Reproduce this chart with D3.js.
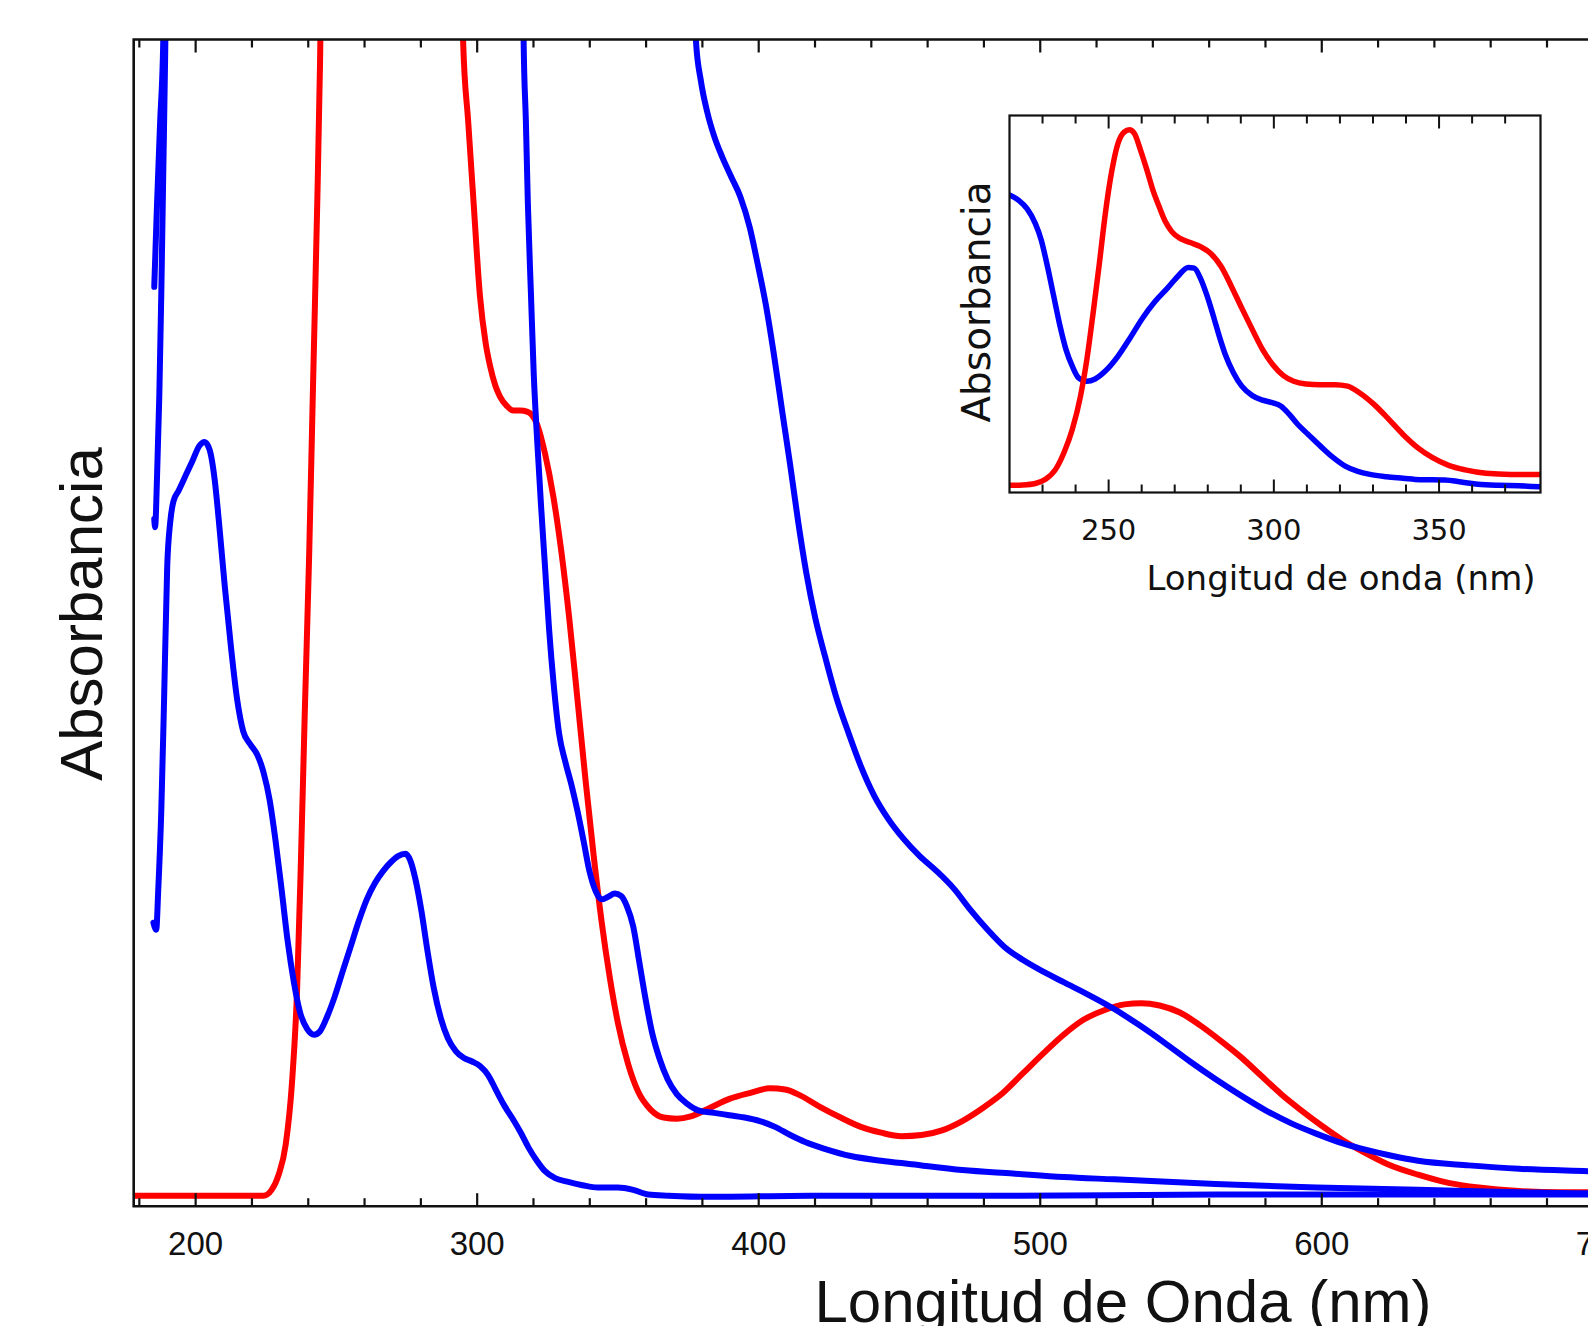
<!DOCTYPE html>
<html>
<head>
<meta charset="utf-8">
<script src="https://cdn.jsdelivr.net/npm/d3@7"></script>
<style>
  html, body { margin: 0; padding: 0; background: #fff; }
  svg { display: block; }
</style>
</head>
<body>
<div id="chart"></div>
<script>
(function(){
  // Main spectra: [wavelength nm, absorbance (arb.)], values above 1 run off the top of the frame
  const redMain = [
    [178, 0.009], [202.5, 0.009], [224.1, 0.009], [227.0, 0.014], [229.5, 0.027], [232.0, 0.053],
    [234.2, 0.105], [236.0, 0.183], [237.4, 0.296], [238.8, 0.426], [240.3, 0.556], [241.7, 0.704],
    [243.2, 0.860], [244.2, 0.982], [245.0, 1.121], [256, 2.3], [278, 1.57], [294.3, 1.121],
    [295.0, 0.999], [296.8, 0.930], [298.6, 0.865], [301.0, 0.780], [303.0, 0.740], [304.6, 0.720],
    [306.5, 0.703], [308.1, 0.694], [310.5, 0.686], [312.8, 0.682], [315.3, 0.682], [317.7, 0.681],
    [319.5, 0.678], [321.3, 0.670], [324.1, 0.645],
    [327.0, 0.609], [329.9, 0.561], [332.7, 0.504], [335.6, 0.435], [338.5, 0.365], [341.4, 0.300],
    [344.2, 0.244], [347.1, 0.196], [350.0, 0.157], [353.6, 0.122], [357.2, 0.098], [361.5, 0.083],
    [366.2, 0.076], [370.9, 0.075], [375.9, 0.077], [382.4, 0.084], [389.6, 0.092], [396.8, 0.097],
    [404.0, 0.101], [409.4, 0.100], [414.7, 0.095], [421.9, 0.085], [429.1, 0.076], [436.3, 0.068],
    [443.5, 0.063], [450.7, 0.060], [457.9, 0.061], [465.1, 0.065], [472.3, 0.073], [479.5, 0.084],
    [486.7, 0.097], [493.9, 0.114], [501.1, 0.131], [508.3, 0.147], [515.5, 0.160], [522.7, 0.168],
    [529.9, 0.173], [536.0, 0.174], [542.4, 0.172], [549.6, 0.166], [556.8, 0.155], [564.0, 0.142],
    [571.2, 0.128], [578.4, 0.112], [585.6, 0.096], [592.8, 0.082], [600.0, 0.069], [607.2, 0.057],
    [614.4, 0.047], [623.4, 0.036], [634.2, 0.027], [645.0, 0.020], [655.8, 0.016], [670.1, 0.013],
    [684.5, 0.012], [694.6, 0.012], [720, 0.011]
  ];

  const blueDilute = [
    [185.0, 0.243], [186.0, 0.237], [186.7, 0.270], [187.8, 0.339], [188.8, 0.435], [189.9, 0.548],
    [191.0, 0.587], [192.1, 0.604], [193.9, 0.613], [196.4, 0.626], [198.9, 0.639], [201.4, 0.652],
    [203.2, 0.655], [205.0, 0.648], [206.8, 0.622], [208.6, 0.578], [210.4, 0.530], [212.6, 0.478],
    [214.7, 0.435], [216.9, 0.407], [219.4, 0.396], [221.9, 0.387], [224.1, 0.372], [226.3, 0.348],
    [228.4, 0.313], [230.6, 0.270], [232.7, 0.227], [234.9, 0.192], [237.1, 0.166], [239.6, 0.152],
    [242.1, 0.147], [244.2, 0.150], [246.8, 0.163], [249.3, 0.179], [252.2, 0.201], [255.0, 0.222],
    [257.9, 0.244], [260.8, 0.263], [263.7, 0.277], [266.5, 0.287], [269.4, 0.295], [271.9, 0.300],
    [274.5, 0.302], [276.3, 0.296], [278.1, 0.280], [280.2, 0.253], [282.4, 0.218], [284.5, 0.188],
    [287.1, 0.161], [289.6, 0.144], [292.4, 0.133], [295.3, 0.127], [298.2, 0.124], [301.1, 0.120],
    [304.0, 0.112], [306.8, 0.099], [309.7, 0.086], [312.6, 0.075], [315.5, 0.063], [318.3, 0.050],
    [321.2, 0.039], [324.1, 0.030], [327.7, 0.024], [332.0, 0.021], [337.4, 0.018], [342.8, 0.016],
    [350.0, 0.016], [355.4, 0.014], [360.8, 0.010], [368.0, 0.009], [382.4, 0.008], [418.3, 0.009],
    [490.3, 0.009], [562.2, 0.010], [634.2, 0.010], [694.6, 0.010], [720, 0.010]
  ];

  const blueMedium = [
    [185.3, 0.589], [185.6, 0.582], [186.3, 0.626], [187.1, 0.695], [187.8, 0.782], [188.5, 0.886],
    [189.2, 0.990], [189.6, 1.078], [203, 6.0], [274, 4.0], [316.2, 1.085],
    [316.5, 0.999], [317.3, 0.930], [318.0, 0.860], [319.1, 0.782], [320.1, 0.713], [321.2, 0.661],
    [322.7, 0.600], [324.1, 0.548], [325.5, 0.496], [327.3, 0.444], [329.1, 0.405], [331.3, 0.381],
    [333.5, 0.361], [335.6, 0.339], [337.8, 0.313], [339.9, 0.287], [342.1, 0.270], [344.2, 0.263],
    [346.4, 0.265], [348.9, 0.268], [351.1, 0.266], [353.2, 0.257], [355.4, 0.240], [357.6, 0.209],
    [359.7, 0.179], [362.2, 0.148], [364.7, 0.127], [367.6, 0.109], [370.9, 0.096], [374.5, 0.088],
    [378.8, 0.082], [384.2, 0.080], [389.6, 0.078], [395.0, 0.076], [400.4, 0.073], [405.8, 0.068],
    [411.2, 0.061], [416.5, 0.055], [423.7, 0.049], [432.7, 0.043], [443.5, 0.039], [454.3, 0.036],
    [472.3, 0.031], [490.3, 0.028], [508.3, 0.025], [526.3, 0.023], [562.2, 0.019], [598.2, 0.016],
    [634.2, 0.014], [670.1, 0.012], [694.6, 0.011], [720, 0.011]
  ];

  const blueConc = [
    [185.3, 0.788], [186.3, 0.860], [187.4, 0.930], [188.5, 0.999], [188.8, 1.085], [203, 15],
    [274, 9], [350, 3.0], [377.4, 1.085],
    [377.7, 0.999], [379.5, 0.964], [381.7, 0.938], [384.2, 0.917], [387.1, 0.899], [390.3, 0.882],
    [393.5, 0.865], [396.8, 0.839], [399.6, 0.808], [402.5, 0.773], [405.4, 0.730], [408.3, 0.682],
    [411.2, 0.635], [414.0, 0.587], [416.9, 0.543], [420.1, 0.504], [423.7, 0.470], [427.7, 0.435],
    [432.0, 0.405], [436.3, 0.377], [441.0, 0.352], [446.0, 0.332], [451.4, 0.315], [457.2, 0.300],
    [463.3, 0.287], [469.4, 0.272], [475.2, 0.254], [481.3, 0.237], [487.4, 0.222], [493.9, 0.211],
    [501.1, 0.201], [508.3, 0.192], [517.3, 0.181], [526.3, 0.169], [535.3, 0.155], [544.2, 0.140],
    [553.2, 0.124], [562.2, 0.109], [571.2, 0.095], [580.2, 0.082], [589.2, 0.071], [598.2, 0.062],
    [607.2, 0.054], [616.2, 0.048], [625.2, 0.043], [634.2, 0.039], [652.2, 0.035], [670.1, 0.032],
    [694.6, 0.030], [720, 0.028]
  ];

  // Inset spectra
  const blueInset = [
    [220, 0.789], [222.8, 0.775], [225.3, 0.753], [227.8, 0.714], [229.6, 0.670], [231.5, 0.599],
    [233.4, 0.520], [235.3, 0.441], [237.1, 0.379], [239.0, 0.335], [240.9, 0.304], [243.4, 0.295],
    [245.9, 0.301], [249.0, 0.322], [252.8, 0.361], [256.5, 0.410], [260.3, 0.463], [264.1, 0.507],
    [267.8, 0.542], [270.9, 0.573], [274.1, 0.597], [275.9, 0.595], [277.8, 0.568], [279.7, 0.524],
    [281.6, 0.471], [283.5, 0.414], [285.3, 0.366], [287.8, 0.317], [290.3, 0.282], [293.5, 0.257],
    [296.6, 0.245], [299.7, 0.238], [302.2, 0.229], [304.7, 0.207], [307.2, 0.181], [310.4, 0.154],
    [314.1, 0.123], [317.9, 0.093], [321.6, 0.070], [325.4, 0.056], [329.1, 0.048], [334.1, 0.042],
    [339.1, 0.038], [344.2, 0.034], [351.7, 0.033], [356.7, 0.028], [361.7, 0.022], [367.9, 0.019],
    [374.2, 0.018], [380.7, 0.015]
  ];

  const redInset = [
    [220, 0.019], [224.0, 0.020], [227.8, 0.024], [230.9, 0.035], [234.0, 0.062], [236.5, 0.106],
    [239.0, 0.167], [241.5, 0.256], [243.4, 0.352], [245.3, 0.476], [247.2, 0.608], [249.0, 0.740],
    [250.9, 0.850], [252.8, 0.925], [254.7, 0.956], [256.3, 0.962], [257.8, 0.952], [259.7, 0.907],
    [261.6, 0.855], [263.4, 0.802], [265.3, 0.758], [267.2, 0.718], [269.1, 0.692], [271.6, 0.674],
    [274.7, 0.663], [277.8, 0.652], [280.9, 0.634], [284.1, 0.599], [287.2, 0.546], [290.3, 0.489],
    [293.5, 0.432], [296.6, 0.379], [299.7, 0.339], [302.9, 0.310], [306.0, 0.295], [309.7, 0.288],
    [314.1, 0.286], [318.5, 0.286], [322.3, 0.282], [326.0, 0.264], [330.4, 0.233], [334.8, 0.194],
    [339.1, 0.154], [343.5, 0.119], [347.9, 0.093], [352.9, 0.072], [357.9, 0.060], [364.2, 0.051],
    [371.7, 0.048], [380.7, 0.048]
  ];

  const mainTicks = [200, 300, 400, 500, 600, 700];
  const insetTicks = [250, 300, 350];

  const W = 1588, H = 1326;
  const ink = "#111";

  const svg = d3.select("#chart")
    .append("svg")
    .attr("width", W)
    .attr("height", H);

  svg.append("rect").attr("width", W).attr("height", H).attr("fill", "#fff");

  // ---- main panel ----
  const box = { left: 133.7, top: 39.5, bottom: 1206.2 };
  const x = d3.scaleLinear().domain([178, 720]).range([box.left, 195.5 + 520 * 2.8156]);
  const y = d3.scaleLinear().domain([0, 1]).range([box.bottom, box.top]);

  svg.append("clipPath").attr("id", "clipMain")
    .append("rect")
    .attr("x", box.left).attr("y", box.top)
    .attr("width", x.range()[1] - box.left)
    .attr("height", box.bottom - box.top);

  const line = d3.line()
    .x(d => x(d[0]))
    .y(d => y(d[1]))
    .curve(d3.curveMonotoneX);

  const curves = svg.append("g").attr("clip-path", "url(#clipMain)");
  [[redMain, "#ff0000"], [blueDilute, "#0000ff"], [blueMedium, "#0000ff"], [blueConc, "#0000ff"]]
    .forEach(([d, c]) => {
      curves.append("path")
        .attr("d", line(d))
        .attr("fill", "none")
        .attr("stroke", c)
        .attr("stroke-width", 6)
        .attr("stroke-linejoin", "round")
        .attr("stroke-linecap", "round");
    });

  // ticks (inward, top and bottom)
  const minor = d3.range(180, 721, 20);
  const tickG = svg.append("g").attr("stroke", ink).attr("stroke-width", 2.2);
  minor.forEach(t => {
    const len = t % 100 === 0 ? 13 : 8;
    tickG.append("line").attr("x1", x(t)).attr("x2", x(t)).attr("y1", box.bottom).attr("y2", box.bottom - len);
    tickG.append("line").attr("x1", x(t)).attr("x2", x(t)).attr("y1", box.top).attr("y2", box.top + len);
  });

  // frame
  svg.append("path")
    .attr("d", `M${W + 10},${box.top}H${box.left}V${box.bottom}H${W + 10}`)
    .attr("fill", "none")
    .attr("stroke", ink)
    .attr("stroke-width", 2.6);

  svg.append("g")
    .selectAll("text")
    .data(mainTicks)
    .join("text")
    .attr("x", d => x(d))
    .attr("y", 1255)
    .attr("text-anchor", "middle")
    .style("font-family", "'Liberation Sans', Arial, sans-serif")
    .style("font-size", "33px")
    .attr("fill", ink)
    .text(d => d);

  svg.append("text")
    .attr("x", 1123)
    .attr("y", 1322)
    .attr("text-anchor", "middle")
    .style("font-family", "'Liberation Sans', Arial, sans-serif")
    .style("font-size", "60px")
    .attr("fill", ink)
    .text("Longitud de Onda (nm)");

  svg.append("text")
    .attr("transform", "translate(102,614) rotate(-90)")
    .attr("text-anchor", "middle")
    .style("font-family", "'Liberation Sans', Arial, sans-serif")
    .style("font-size", "60px")
    .attr("fill", ink)
    .text("Absorbancia");

  // ---- inset ----
  const ib = { left: 1009.5, right: 1540.5, top: 115.5, bottom: 492.5 };
  const xi = d3.scaleLinear().domain([220, 380.7]).range([ib.left, ib.right]);
  const yi = d3.scaleLinear().domain([0, 1]).range([ib.bottom, ib.top]);

  svg.append("rect")
    .attr("x", ib.left).attr("y", ib.top)
    .attr("width", ib.right - ib.left).attr("height", ib.bottom - ib.top)
    .attr("fill", "#fff");

  svg.append("clipPath").attr("id", "clipInset")
    .append("rect")
    .attr("x", ib.left).attr("y", ib.top)
    .attr("width", ib.right - ib.left).attr("height", ib.bottom - ib.top);

  const lineI = d3.line()
    .x(d => xi(d[0]))
    .y(d => yi(d[1]))
    .curve(d3.curveMonotoneX);

  const ig = svg.append("g").attr("clip-path", "url(#clipInset)");
  [[blueInset, "#0000ff"], [redInset, "#ff0000"]].forEach(([d, c]) => {
    ig.append("path")
      .attr("d", lineI(d))
      .attr("fill", "none")
      .attr("stroke", c)
      .attr("stroke-width", 5.5)
      .attr("stroke-linejoin", "round")
      .attr("stroke-linecap", "round");
  });

  const itg = svg.append("g").attr("stroke", ink).attr("stroke-width", 2);
  d3.range(230, 380, 10).forEach(t => {
    const len = t % 50 === 0 ? 13 : 8;
    itg.append("line").attr("x1", xi(t)).attr("x2", xi(t)).attr("y1", ib.bottom).attr("y2", ib.bottom - len);
    itg.append("line").attr("x1", xi(t)).attr("x2", xi(t)).attr("y1", ib.top).attr("y2", ib.top + len);
  });

  svg.append("rect")
    .attr("x", ib.left).attr("y", ib.top)
    .attr("width", ib.right - ib.left).attr("height", ib.bottom - ib.top)
    .attr("fill", "none")
    .attr("stroke", ink)
    .attr("stroke-width", 2.2);

  svg.append("g")
    .selectAll("text")
    .data(insetTicks)
    .join("text")
    .attr("x", d => xi(d))
    .attr("y", 540)
    .attr("text-anchor", "middle")
    .style("font-family", "'DejaVu Sans', Verdana, sans-serif")
    .style("font-size", "29px")
    .attr("fill", ink)
    .text(d => d);

  svg.append("text")
    .attr("x", 1341)
    .attr("y", 590)
    .attr("text-anchor", "middle")
    .style("font-family", "'DejaVu Sans', Verdana, sans-serif")
    .style("font-size", "34px")
    .attr("fill", ink)
    .text("Longitud de onda (nm)");

  svg.append("text")
    .attr("transform", "translate(990,302) rotate(-90)")
    .attr("text-anchor", "middle")
    .style("font-family", "'DejaVu Sans', Verdana, sans-serif")
    .style("font-size", "39px")
    .attr("fill", ink)
    .text("Absorbancia");
})();
</script>
</body>
</html>
